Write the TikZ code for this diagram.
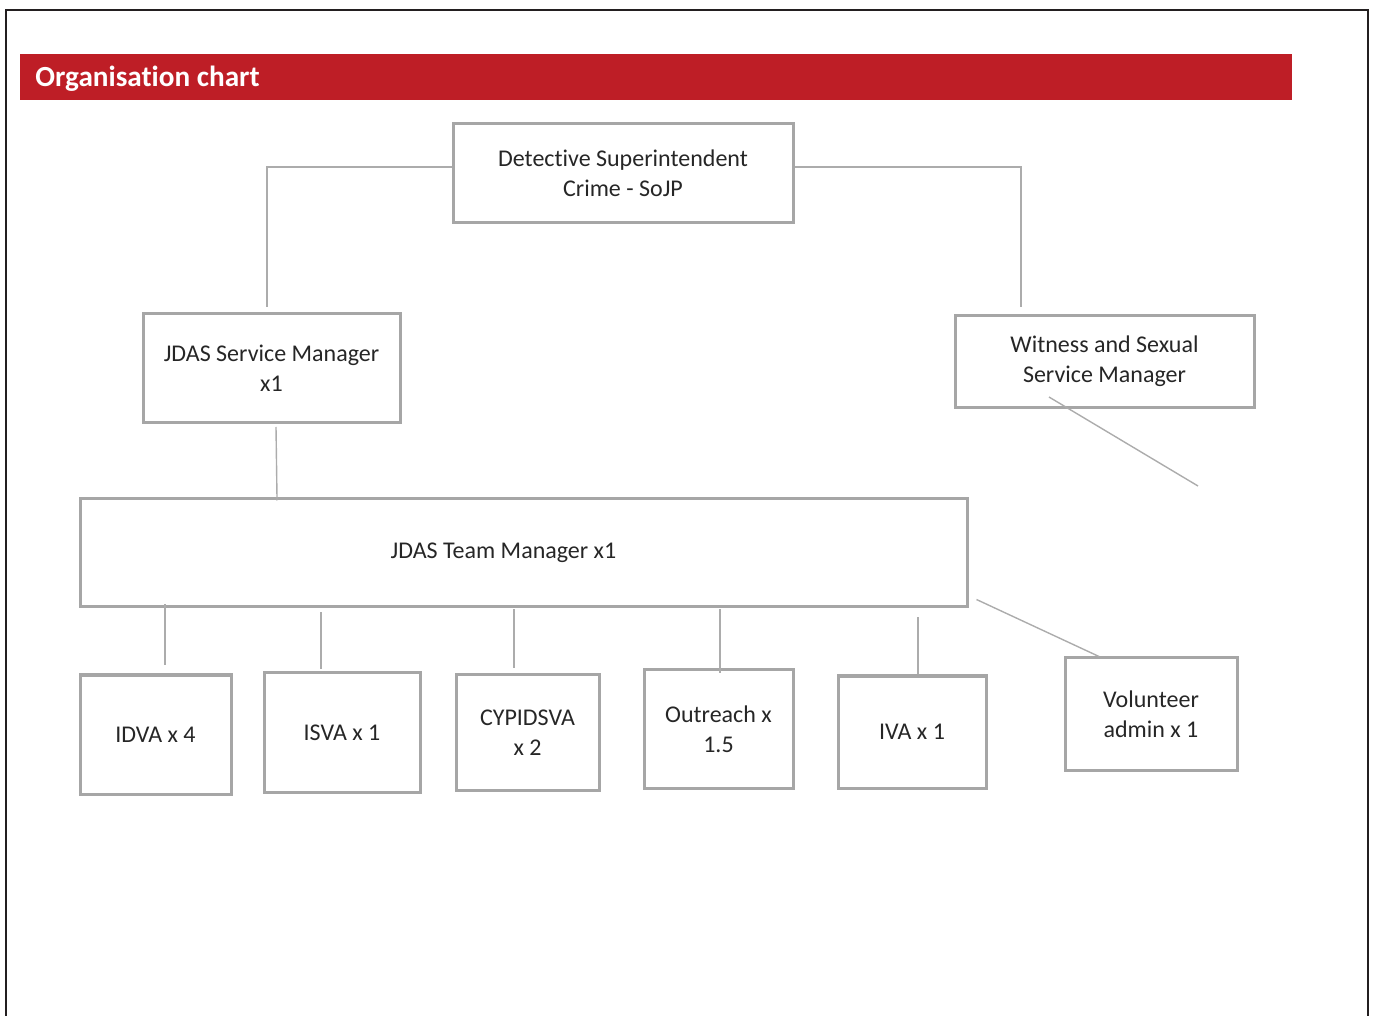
\documentclass[tikz,border=0pt]{standalone}
\usepackage{fontspec}
\setmainfont[Ligatures=NoCommon]{Carlito}
\definecolor{chartred}{RGB}{190,30,38}
\definecolor{boxgray}{RGB}{166,166,166}
\definecolor{linegray}{RGB}{172,172,172}
\definecolor{framegray}{RGB}{35,31,32}

\begin{document}
\begin{tikzpicture}[
    x=0.5pt, y=-0.5pt,
    org box/.style={draw=boxgray, line width=1.5pt, align=center, inner sep=0pt,
      font=\fontsize{12}{15}\selectfont, text=black!85},
    link/.style={draw=linegray, line width=0.7pt},
    title text/.style={text=white, font=\fontsize{14.6}{17}\selectfont\bfseries, inner sep=0pt}
]
\useasboundingbox (0,0) rectangle (1373,1016);
\draw[framegray, line width=1.25pt] (6,1016) -- (6,10) -- (1368,10) -- (1368,1016);
\fill[chartred] (20,54) rectangle (1292,100);
\node[title text, anchor=west] (title) at (35,78.5) {Organisation chart};

\node[org box, minimum width=170pt, minimum height=49.5pt] (DS) at (623,173)
  {Detective Superintendent\\Crime - SoJP};
\node[org box, minimum width=128.5pt, minimum height=54.5pt] (SM) at (271.5,368)
  {JDAS Service Manager\\x1};
\node[org box, minimum width=149.5pt, minimum height=46pt] (WM) at (1104.5,361.5)
  {Witness and Sexual\\Service Manager};
\node[org box, minimum width=443.5pt, minimum height=54pt] (TM) at (523.5,553)
  {JDAS Team Manager x1\hspace*{20pt}};
\node[org box, minimum width=75.5pt, minimum height=59.5pt] (IDVA) at (155.5,734.5) {IDVA x 4};
\node[org box, minimum width=78pt, minimum height=59.5pt] (ISVA) at (342,732.5) {ISVA x 1};
\node[org box, minimum width=71.5pt, minimum height=58pt] (CYP) at (527.5,732.5) {CYPIDSVA\\x 2};
\node[org box, minimum width=74.5pt, minimum height=59pt] (OUT) at (718.5,729) {Outreach x\\1.5};
\node[org box, minimum width=74pt, minimum height=56pt] (IVA) at (912,732) {IVA x 1};
\node[org box, minimum width=86pt, minimum height=56pt] (VOL) at (1151,714) {Volunteer\\admin x 1};

% top level
\draw[link] ([shift={(0,-6)}]DS.west) -| ([shift={(-4.5,-5)}]SM.north);
\draw[link] ([shift={(0,-6)}]DS.east) -| ([shift={(-83.5,-7)}]WM.north);
\draw[link, shorten >=-1.5pt] ([shift={(4.5,3)}]SM.south) -- (TM.north -| 277,0);
\coordinate (WMend) at (1198,486);
\draw[link] ([shift={(-55.5,-12)}]WM.south) -- (WMend);

% team
\foreach \n/\x/\s/\e in {IDVA/165/-2/4, ISVA/321/2/1, CYP/514/0.5/2.5, OUT/720/0.5/-2.5, IVA/918/4.5/0}
  \draw[link, shorten <=\s pt, shorten >=\e pt] (TM.south -| \x,0) -- (\n.north -| \x,0);
\draw[link] ([shift={(8,-9)}]TM.south east) -- (VOL.north -| 1099,0);
\end{tikzpicture}
\end{document}
